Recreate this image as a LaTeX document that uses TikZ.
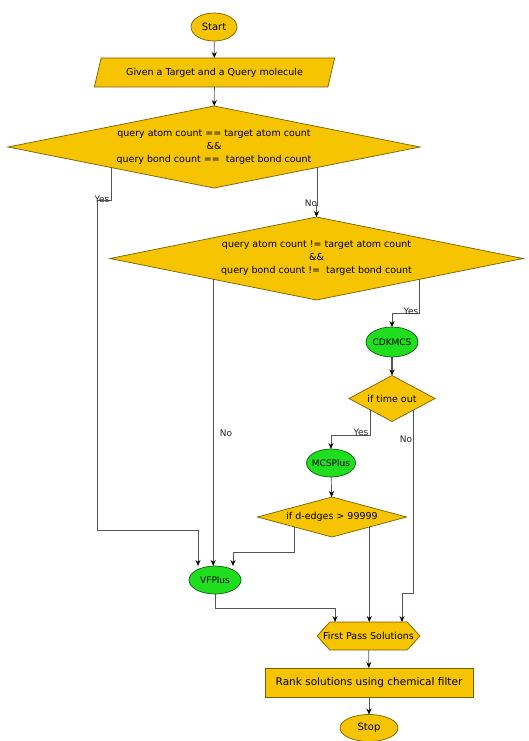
\documentclass[tikz,border=0pt]{standalone}
\usepackage{fontspec}
\setmainfont{DejaVu Sans}
\usetikzlibrary{shapes.geometric,shapes.symbols,arrows.meta}
\definecolor{fy}{RGB}{246,196,0}
\definecolor{fyd}{RGB}{120,95,10}
\definecolor{fg}{RGB}{30,222,30}
\definecolor{fgd}{RGB}{20,90,20}
\definecolor{ln}{RGB}{85,85,85}
\tikzset{
  base/.style={inner sep=0pt, outer sep=0pt, font=\fontsize{9.5}{13}\selectfont, align=center, line width=0.7pt},
  yel/.style={base, fill=fy, draw=fyd},
  grn/.style={base, fill=fg, draw=fgd, font=\fontsize{9}{11}\selectfont, inner xsep=-6pt},
  oval/.style={ellipse},
  dia/.style={diamond},
  conn/.style={draw=ln, line width=0.7pt, -{Stealth[length=6pt,width=5pt,color=black]}},
  lbl/.style={font=\fontsize{9}{10}\selectfont, inner sep=1pt, text=black!85}
}
\begin{document}
\begin{tikzpicture}[x=1pt,y=-1pt]
\useasboundingbox (0,0) rectangle (529,741);
\fill[white] (0,0) rectangle (529,741);

\node[yel,oval,minimum width=46pt,minimum height=28pt,font=\fontsize{10}{12}\selectfont] (start) at (214,27) {Start};
\node[yel,trapezium,trapezium left angle=60,trapezium right angle=120,trapezium stretches=true,minimum width=241pt,minimum height=29pt] (given) at (214.5,72.5) {Given a Target and a Query molecule};
\node[yel,dia,shape aspect=5,minimum width=412pt,minimum height=82pt] (d1) at (214,147) {query atom count == target atom count\\\&\&\\query bond count ==\ \ target bond count};
\node[yel,dia,shape aspect=5,minimum width=413pt,minimum height=83pt] (d2) at (316.5,258.5) {query atom count != target atom count\\\&\&\\query bond count !=\ \ target bond count};
\node[grn,oval,minimum width=52pt,minimum height=30pt] (cdk) at (392,342) {CDKMCS};
\node[yel,dia,shape aspect=1.9,minimum width=86pt,minimum height=46pt] (tout) at (392,398.5) {if time out};
\node[grn,oval,minimum width=49pt,minimum height=28pt,inner xsep=-8pt] (mcs) at (331,463) {MCSPlus};
\node[yel,dia,shape aspect=3.7,minimum width=149pt,minimum height=40pt] (dedge) at (332,517) {if d-edges > 99999};
\node[grn,oval,minimum width=52pt,minimum height=28pt] (vf) at (215,580) {VFPlus};
\node[yel,signal,signal to=west and east,signal pointer angle=95,minimum width=103pt,minimum height=28pt,inner xsep=-7pt] (fp) at (368.5,636) {First Pass Solutions};
\node[yel,rectangle,minimum width=208pt,minimum height=29pt,font=\fontsize{10.5}{12}\selectfont] (rank) at (369,682.5) {Rank solutions using chemical filter};
\node[yel,oval,minimum width=58pt,minimum height=27pt,font=\fontsize{10}{12}\selectfont] (stop) at (369,728) {Stop};

\draw[conn] (start) -- (given);
\draw[conn] (given) -- (d1);
% Yes from d1
\draw[conn] (d1.south west) -- (111,200) -- (97,200) -- (97,530) -- (198,530) -- (198,0 |- vf.north);
\node[lbl] (yes1) at (102,199) {Yes};
% No from d1
\draw[conn] (d1.south east) -- (317,205) -- (d2.north |- 0,205) -- (d2.north);
\node[lbl] (no1) at (311,203) {No};
% No from d2
\draw[conn] (d2.south west) -- (d2.south west |- vf.north);
\node[lbl] (no2) at (226,433) {No};
% Yes from d2
\draw[conn] (d2.south east) -- (d2.south east |- 0,313) -- (cdk.north |- 0,313) -- (cdk.north);
\node[lbl] (yes2) at (411,311) {Yes};
\draw[conn, line width=1.3pt] (cdk) -- (tout);
% Yes from time out
\draw[conn] (tout.south west) -- (tout.south west |- 0,435) -- (mcs.north |- 0,435) -- (mcs.north);
\node[lbl] (yes3) at (361,432) {Yes};
% No from time out
\draw[conn] (tout.south east) -- (tout.south east |- 0,593) -- (402,593) -- (402,0 |- fp.north);
\node[lbl] (no3) at (406,439) {No};
\draw[conn] (mcs) -- (dedge);
\draw[conn] (dedge.south west) -- (dedge.south west |- 0,552) -- (233,552) -- (233,0 |- vf.north);
\draw[conn] (dedge.south east) -- (dedge.south east |- fp.north);
\draw[conn] (vf.south) -- (215,608) -- (335,608) -- (335,0 |- fp.north);
\draw[conn] (fp) -- (rank);
\draw[conn] (rank) -- (stop);
\end{tikzpicture}
\end{document}
